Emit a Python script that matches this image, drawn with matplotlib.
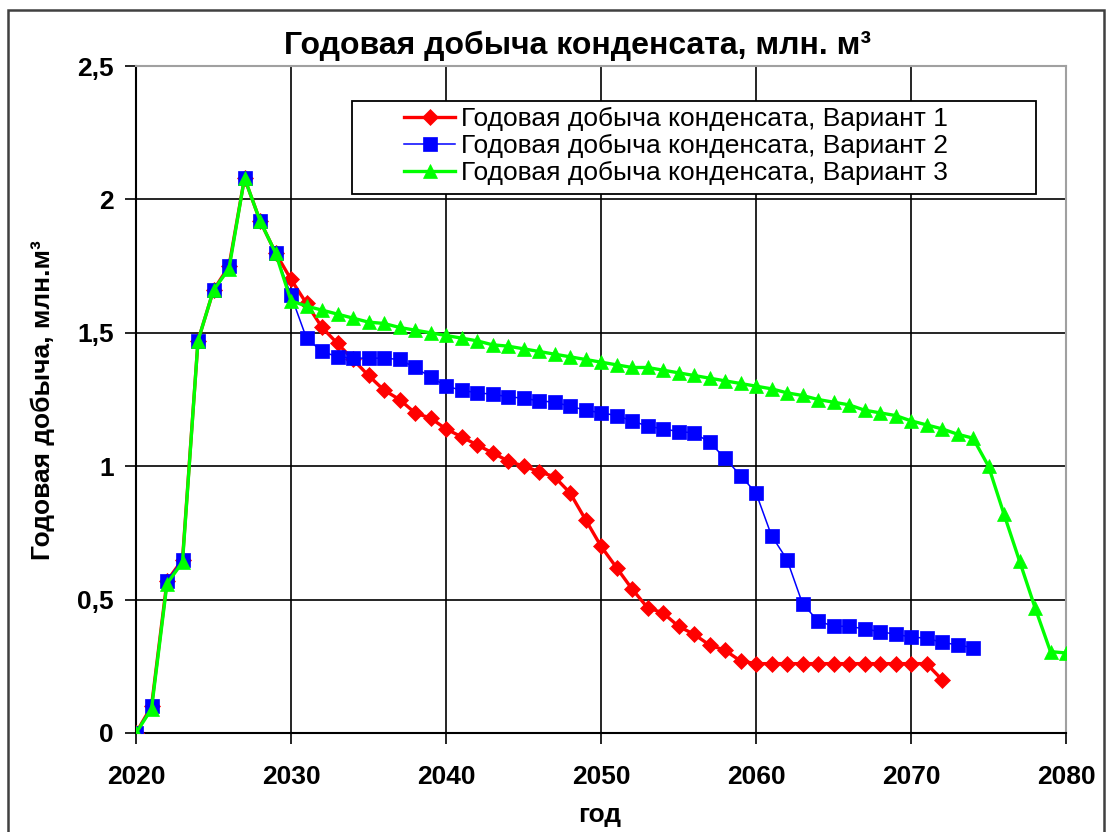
import numpy as np
import matplotlib
matplotlib.use("Agg")
import matplotlib.pyplot as plt
from matplotlib.patches import Rectangle
from matplotlib.ticker import FixedLocator, FixedFormatter

plt.rcParams['font.family'] = ['Liberation Sans', 'DejaVu Sans']

# data
years_v1 = np.arange(2020, 2073)
prod_v1 = [0, 0.10, 0.57, 0.65, 1.47, 1.66, 1.75, 2.08, 1.92, 1.80,
           1.70, 1.61, 1.52, 1.46, 1.40, 1.34, 1.285, 1.25, 1.20, 1.18,
           1.14, 1.11, 1.08, 1.05, 1.02, 1.00, 0.98, 0.96, 0.90, 0.80,
           0.70, 0.62, 0.54, 0.47, 0.45, 0.40, 0.37, 0.33, 0.31, 0.27,
           0.26, 0.26, 0.26, 0.26, 0.26, 0.26, 0.26, 0.26, 0.26, 0.26,
           0.26, 0.26, 0.20]

years_v2 = np.arange(2020, 2075)
prod_v2 = [0, 0.10, 0.57, 0.65, 1.47, 1.66, 1.75, 2.08, 1.92, 1.80,
           1.64, 1.48, 1.43, 1.41, 1.405, 1.405, 1.405, 1.40, 1.37, 1.335,
           1.30, 1.285, 1.275, 1.27, 1.26, 1.255, 1.245, 1.24, 1.225, 1.21,
           1.20, 1.19, 1.17, 1.15, 1.14, 1.13, 1.125, 1.09, 1.03, 0.965,
           0.90, 0.74, 0.65, 0.485, 0.42, 0.40, 0.40, 0.39, 0.38, 0.37,
           0.36, 0.355, 0.34, 0.33, 0.32]

years_v3 = np.arange(2020, 2081)
prod_v3 = [0, 0.09, 0.56, 0.64, 1.47, 1.66, 1.74, 2.08, 1.92, 1.80,
           1.62, 1.60, 1.585, 1.57, 1.555, 1.54, 1.535, 1.52, 1.51, 1.50,
           1.49, 1.48, 1.47, 1.455, 1.45, 1.44, 1.43, 1.42, 1.41, 1.40,
           1.39, 1.38, 1.37, 1.37, 1.36, 1.35, 1.34, 1.33, 1.32, 1.31,
           1.30, 1.29, 1.275, 1.265, 1.25, 1.24, 1.23, 1.21, 1.20, 1.19,
           1.17, 1.155, 1.14, 1.12, 1.105, 1.00, 0.82, 0.645, 0.47, 0.305,
           0.30]

labels = ['Годовая добыча конденсата, Вариант 1',
          'Годовая добыча конденсата, Вариант 2',
          'Годовая добыча конденсата, Вариант 3']

xticks = [2020, 2030, 2040, 2050, 2060, 2070, 2080]
yticks = [0, 0.5, 1, 1.5, 2, 2.5]
ytick_labels = ['0', '0,5', '1', '1,5', '2', '2,5']

W, H = 1106, 832
fig = plt.figure(figsize=(W/100, H/100), dpi=100)
ax = fig.add_axes([136/W, 1-733/H, 930/W, 667/H])

ax.plot(years_v1, prod_v1, color='#ff0000', lw=2.4, marker='D', ms=8,
        mec='#ff0000', mew=0.5, label=labels[0], zorder=3)
ax.plot(years_v2, prod_v2, color='#0000ff', lw=1.1, marker='s', ms=9.5,
        mec='#0000ff', mew=0.5, label=labels[1], zorder=3)
ax.plot(years_v3, prod_v3, color='#00ff00', lw=2.4, marker='^', ms=10.5,
        mec='#00ff00', mew=0.5, label=labels[2], zorder=3)

ax.set_xlim(2020, 2080)
ax.set_ylim(0, 2.5)
ax.xaxis.set_major_locator(FixedLocator(xticks))
ax.yaxis.set_major_locator(FixedLocator(yticks))
ax.yaxis.set_major_formatter(FixedFormatter(ytick_labels))
ax.grid(True, color='black', lw=1.2, zorder=1)
ax.set_axisbelow(True)

for s in ['top', 'right']:
    ax.spines[s].set_color('#a0a0a0')
    ax.spines[s].set_linewidth(1.5)
for s in ['left', 'bottom']:
    ax.spines[s].set_color('black')
    ax.spines[s].set_linewidth(1.5)

ax.tick_params(axis='both', direction='out', length=8, width=1.2,
               labelsize=19, color='black')
ax.tick_params(axis='y', pad=8)
ax.tick_params(axis='x', pad=15)
for t in ax.get_xticklabels() + ax.get_yticklabels():
    t.set_fontweight('bold')

# legend box
ax.add_patch(Rectangle(((352-136)/930, (733-194)/667), 684/930, 93/667,
                       transform=ax.transAxes, facecolor='white',
                       edgecolor='black', lw=1.3, zorder=4))
leg = ax.legend(loc='upper left', bbox_to_anchor=((404-136)/930, (733-107)/667),
                frameon=False, fontsize=19, borderpad=0, borderaxespad=0,
                handlelength=1.95, handletextpad=0.2, labelspacing=0.12)
leg.set_zorder(5)

fig.text(578/W, 1-46/H, 'Годовая добыча конденсата, млн. м³', ha='center',
         va='center', fontsize=23, fontweight='bold')
fig.text(43/W, 1-400/H, 'Годовая добыча, млн.м³', ha='center', va='center',
         rotation=90, fontsize=19, fontweight='bold')
fig.text(600/W, 1-815/H, 'год', ha='center', va='center', fontsize=19,
         fontweight='bold')

# outer chart frame
fig.patches.append(Rectangle((8/W, -0.1), 1096/W, 1.1-10/H,
                             transform=fig.transFigure, fill=False,
                             edgecolor='#404040', lw=1.8))

fig.savefig('out.png', dpi=100)
